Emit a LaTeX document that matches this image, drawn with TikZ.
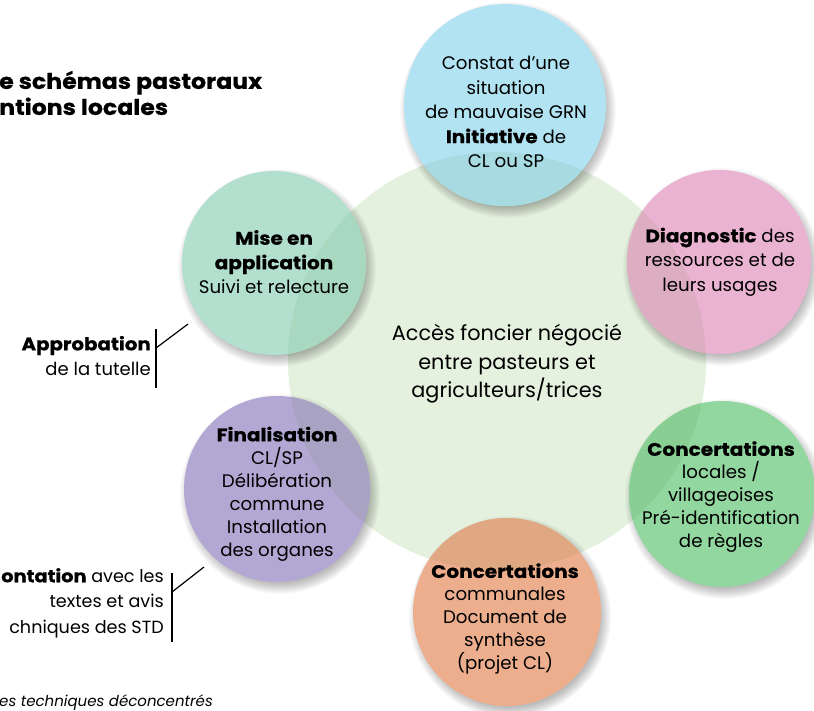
\documentclass[tikz,border=0pt]{standalone}
\usepackage{fontspec}
\setmainfont{Poppins}[BoldFeatures={FakeStretch=1.1,FakeBold=0.6}]
\usetikzlibrary{calc}
\definecolor{cCenter}{RGB}{229,241,223}
\definecolor{cBlue}{RGB}{178,227,243}
\definecolor{cBlueO}{RGB}{167,219,225}
\definecolor{cPink}{RGB}{235,179,210}
\definecolor{cPinkO}{RGB}{221,173,194}
\definecolor{cGreen}{RGB}{146,214,160}
\definecolor{cGreenO}{RGB}{137,207,148}
\definecolor{cOrange}{RGB}{237,174,142}
\definecolor{cOrangeO}{RGB}{223,168,131}
\definecolor{cPurple}{RGB}{179,168,211}
\definecolor{cPurpleO}{RGB}{168,162,195}
\definecolor{cTeal}{RGB}{179,223,206}
\definecolor{cTealO}{RGB}{168,216,191}
\newcommand\mybubble[4]{%
  \foreach \k in {0,...,11} {\fill[black, opacity=0.022] ($(#1)+(3,5)$) circle[radius={#2-4+\k}];}
  \fill[#3] (#1) circle[radius=#2];
  \begin{scope}
    \clip (#1) circle[radius=#2];
    \fill[#4] (cc) circle[radius=209];
  \end{scope}
}
\begin{document}
\begin{tikzpicture}[x=1pt,y=-1pt,
  txt/.style={align=center, inner sep=0pt, font=\fontsize{18.2}{24.5}\selectfont},
  txtb/.style={align=center, inner sep=0pt, font=\fontsize{18.2}{23}\selectfont},
  side/.style={align=right, inner sep=0pt, font=\fontsize{18}{25.5}\selectfont},
  brk/.style={line width=1.2pt, black}]
\useasboundingbox (0,0) rectangle (814,711);
\clip (0,0) rectangle (814,711);
\fill[white] (0,0) rectangle (814,711);
\coordinate (cc) at (497,361);
\coordinate (cb) at (505,105);
\coordinate (cp) at (719,262);
\coordinate (cg) at (722,494);
\coordinate (co) at (507,612);
\coordinate (cv) at (277,489);
\coordinate (ct) at (274,263);
\fill[cCenter] (cc) circle[radius=209];
\mybubble{cb}{101}{cBlue}{cBlueO}
\mybubble{cp}{92}{cPink}{cPinkO}
\mybubble{cg}{93}{cGreen}{cGreenO}
\mybubble{co}{94}{cOrange}{cOrangeO}
\mybubble{cv}{93}{cPurple}{cPurpleO}
\mybubble{ct}{92}{cTeal}{cTealO}
% centre text
\node[align=center, inner sep=0pt, font=\fontsize{20.8}{28.5}\selectfont] (centre) at (507,364)
  {Accès foncier négocié\\entre pasteurs et\\agriculteurs/trices};
% bubble texts
\node[txt] (tb) at (506,112) {Constat d’une\\situation\\de mauvaise GRN\\\textbf{Initiative} de\\CL ou SP};
\node[txt] (tp) at (720,262) {\textbf{Diagnostic} des\\ressources et de\\leurs usages};
\node[txtb] (tg) at (721,497) {\textbf{Concertations}\\locales /\\villageoises\\Pré-identification\\de règles};
\node[txtb] (to) at (505,619) {\textbf{Concertations}\\communales\\Document de\\synthèse\\(projet CL)};
\node[txtb] (tv) at (277,494) {\textbf{Finalisation}\\CL/SP\\Délibération\\commune\\Installation\\des organes};
\node[txt] (tt) at (274,262) {\textbf{Mise en}\\\textbf{application}\\Suivi et relecture};
% side notes
\node[side, anchor=east] (appro) at (151,356) {\textbf{Approbation}\\de la tutelle};
\node[side, anchor=east, font=\fontsize{17.6}{25.5}\selectfont] (confr) at (164,603) {\textbf{ontation} avec les\\textes et avis\\chniques des STD};
\node[align=left, inner sep=0pt, anchor=west, font=\fontsize{21.5}{26}\selectfont\bfseries] (title) at (-1,93)
  {e schémas pastoraux\\ntions locales};
\node[inner sep=0pt, anchor=west, font=\fontsize{15}{18}\selectfont\itshape] (foot) at (-1,703)
  {es techniques déconcentrés};
% brackets
\coordinate (a1) at (156,329);
\coordinate (a2) at (156,388);
\coordinate (a3) at (156,348);
\coordinate (a4) at (188,324);
\draw[brk] (a1) -- (a2);
\draw[brk] (a3) -- (a4);
\coordinate (b1) at (172,573);
\coordinate (b2) at (172,642);
\coordinate (b3) at (172,592);
\coordinate (b4) at (204,567);
\draw[brk] (b1) -- (b2);
\draw[brk] (b3) -- (b4);
\end{tikzpicture}
\end{document}
